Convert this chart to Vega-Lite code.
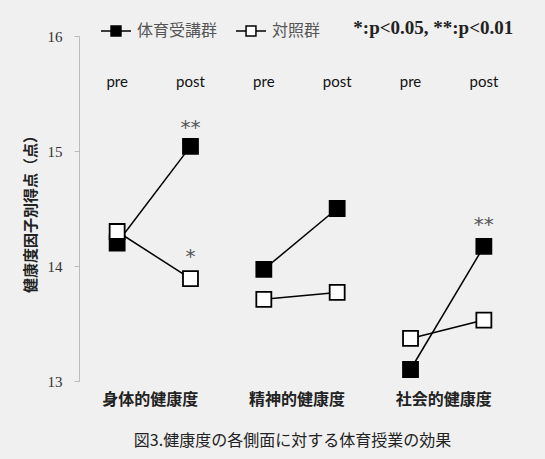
{
  "$schema": "https://vega.github.io/schema/vega-lite/v6.json",
  "width": 443,
  "height": 345,
  "autosize": "none",
  "padding": {"left": 79, "top": 36, "right": 23, "bottom": 78},
  "background": "#f0f0f0",
  "config": {"view": {"stroke": null}, "font": "Noto Sans CJK JP"},
  "title": {
    "text": "図3.健康度の各側面に対する体育授業の効果",
    "orient": "bottom",
    "anchor": "middle",
    "fontSize": 16,
    "fontWeight": "normal",
    "font": "Noto Sans CJK JP",
    "color": "#222",
    "offset": 26,
    "dx": -8
  },
  "datasets": {
    "scores": [
      {"group": "体育受講群", "cat": "身体的健康度", "phase": "pre", "x": 1, "score": 14.20},
      {"group": "体育受講群", "cat": "身体的健康度", "phase": "post", "x": 2, "score": 15.04},
      {"group": "体育受講群", "cat": "精神的健康度", "phase": "pre", "x": 3, "score": 13.97},
      {"group": "体育受講群", "cat": "精神的健康度", "phase": "post", "x": 4, "score": 14.50},
      {"group": "体育受講群", "cat": "社会的健康度", "phase": "pre", "x": 5, "score": 13.10},
      {"group": "体育受講群", "cat": "社会的健康度", "phase": "post", "x": 6, "score": 14.17},
      {"group": "対照群", "cat": "身体的健康度", "phase": "pre", "x": 1, "score": 14.30},
      {"group": "対照群", "cat": "身体的健康度", "phase": "post", "x": 2, "score": 13.89},
      {"group": "対照群", "cat": "精神的健康度", "phase": "pre", "x": 3, "score": 13.71},
      {"group": "対照群", "cat": "精神的健康度", "phase": "post", "x": 4, "score": 13.77},
      {"group": "対照群", "cat": "社会的健康度", "phase": "pre", "x": 5, "score": 13.37},
      {"group": "対照群", "cat": "社会的健康度", "phase": "post", "x": 6, "score": 13.53}
    ],
    "phases": [
      {"x": 1, "label": "pre"}, {"x": 2, "label": "post"},
      {"x": 3, "label": "pre"}, {"x": 4, "label": "post"},
      {"x": 5, "label": "pre"}, {"x": 6, "label": "post"}
    ],
    "sig": [
      {"x": 2, "y": 15.24, "t": "**"},
      {"x": 2, "y": 14.12, "t": "*"},
      {"x": 6, "y": 14.40, "t": "**"}
    ],
    "note": [
      {"x": 4.22, "y": 16.07, "t": "*:p<0.05, **:p<0.01"}
    ]
  },
  "layer": [
    {
      "data": {"name": "scores"},
      "mark": {"type": "line", "color": "black", "strokeWidth": 1.5},
      "encoding": {
        "x": {
          "field": "x",
          "type": "quantitative",
          "scale": {"domain": [0.48, 6.52], "nice": false, "zero": false},
          "axis": {
            "values": [1.5, 3.5, 5.5],
            "labelExpr": "datum.value == 1.5 ? '身体的健康度' : datum.value == 3.5 ? '精神的健康度' : '社会的健康度'",
            "domain": false,
            "ticks": false,
            "grid": false,
            "title": null,
            "labelFont": "Noto Sans CJK JP",
            "labelFontSize": 16,
            "labelFontWeight": "bold",
            "labelColor": "#222",
            "labelPadding": 10,
            "labelFlush": false,
            "labelOffset": -4
          }
        },
        "y": {
          "field": "score",
          "type": "quantitative",
          "scale": {"domain": [13, 16], "nice": false, "zero": false},
          "axis": {
            "values": [13, 14, 15, 16],
            "format": "d",
            "grid": false,
            "tickSize": 5,
            "tickColor": "#bbbbbb",
            "domainColor": "#bbbbbb",
            "labelFont": "Liberation Serif",
            "labelFontSize": 15,
            "labelColor": "#333",
            "labelPadding": 12,
            "title": "健康度因子別得点（点）",
            "titleFont": "Noto Sans CJK JP",
            "titleFontSize": 15,
            "titleFontWeight": "bold",
            "titleColor": "#222",
            "titleX": -49,
            "titleY": 174,
            "titleAlign": "center",
            "titleBaseline": "middle",
            "titleAngle": -90
          }
        },
        "detail": [{"field": "group"}, {"field": "cat"}]
      }
    },
    {
      "data": {"name": "scores"},
      "mark": {"type": "point", "shape": "square", "size": 225, "filled": true, "stroke": "black", "strokeWidth": 1.8, "opacity": 1},
      "encoding": {
        "x": {"field": "x", "type": "quantitative"},
        "y": {"field": "score", "type": "quantitative"},
        "fill": {
          "field": "group",
          "type": "nominal",
          "scale": {"domain": ["体育受講群", "対照群"], "range": ["black", "white"]},
          "legend": {
            "title": null,
            "orient": "none",
            "direction": "horizontal",
            "legendX": 21,
            "legendY": -21,
            "symbolType": "M-1,0H-0.33M0.33,0H1M-0.33,-0.33H0.33V0.33H-0.33Z",
            "symbolSize": 900,
            "symbolStrokeColor": "black",
            "symbolStrokeWidth": 1.5,
            "symbolOpacity": 1,
            "labelFont": "Noto Sans CJK JP",
            "labelFontSize": 16,
            "labelColor": "#555",
            "labelOffset": 5,
            "columnPadding": 15
          }
        }
      }
    },
    {
      "data": {"name": "phases"},
      "mark": {"type": "text", "font": "Lato", "fontSize": 15, "color": "#111", "baseline": "middle"},
      "encoding": {
        "x": {"field": "x", "type": "quantitative"},
        "y": {"datum": 15.6},
        "text": {"field": "label"}
      }
    },
    {
      "data": {"name": "sig"},
      "mark": {"type": "text", "font": "DejaVu Sans", "fontSize": 20, "color": "#555", "baseline": "middle", "dy": 5},
      "encoding": {
        "x": {"field": "x", "type": "quantitative"},
        "y": {"field": "y", "type": "quantitative"},
        "text": {"field": "t"}
      }
    },
    {
      "data": {"name": "note"},
      "mark": {"type": "text", "font": "Liberation Serif", "fontSize": 19, "fontWeight": "bold", "color": "#222", "baseline": "middle", "align": "left", "clip": false},
      "encoding": {
        "x": {"field": "x", "type": "quantitative"},
        "y": {"field": "y", "type": "quantitative"},
        "text": {"field": "t"}
      }
    }
  ]
}
